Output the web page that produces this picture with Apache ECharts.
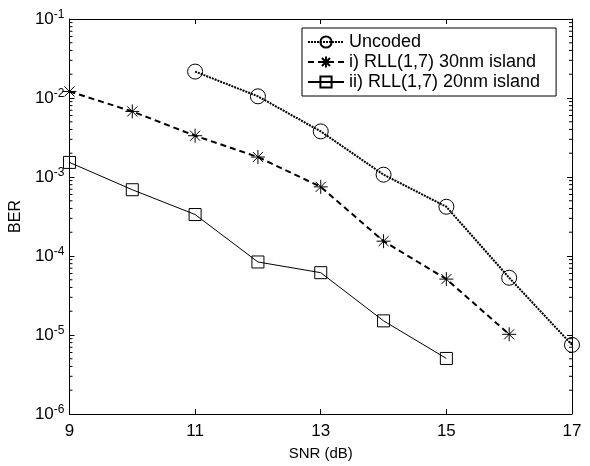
<!DOCTYPE html>
<html>
<head>
<meta charset="utf-8">
<script src="https://cdn.jsdelivr.net/npm/echarts@6/dist/echarts.min.js"></script>
<style>
  html, body { margin: 0; padding: 0; background: #fff; }
  #chart { width: 590px; height: 466px; }
</style>
</head>
<body>
<div id="chart"></div>
<script>
// values (SNR in dB, BER)
const snrUncoded = [11, 12, 13, 14, 15, 16, 17];
const berUncoded = [0.0216, 0.0105, 0.00378, 0.00107, 4.2e-4, 5.3e-5, 7.5e-6];

const snr30nm = [9, 10, 11, 12, 13, 14, 15, 16];
const ber30nm = [0.0121, 0.00676, 0.00333, 0.00179, 7.5e-4, 1.54e-4, 5.1e-5, 1.02e-5];

const snr20nm = [9, 10, 11, 12, 13, 14, 15];
const ber20nm = [0.00153, 6.9e-4, 3.35e-4, 8.4e-5, 6.15e-5, 1.51e-5, 5.05e-6];

const xMin = 9, xMax = 17;
const yMin = 1e-6, yMax = 1e-1;
const seriesNames = ['Uncoded', 'i) RLL(1,7) 30nm island', 'ii) RLL(1,7) 20nm island'];

// log minor ticks: 2..9 inside each decade
const minorMantissas = [2, 3, 4, 5, 6, 7, 8, 9];
const minorDecades = [-6, -5, -4, -3, -2];
const minorTicks = [];
minorDecades.forEach(d => minorMantissas.forEach(m => minorTicks.push(m * Math.pow(10, d))));

const FONT = 'Liberation Sans, Arial, sans-serif';
const asterisk = 'path://M0,-1L0,1M-1,0L1,0M-0.72,-0.72L0.72,0.72M-0.72,0.72L0.72,-0.72';

const pairs = (xs, ys) => xs.map((x, i) => [x, ys[i]]);

const chart = echarts.init(document.getElementById('chart'));

const yLabel = {
    color: '#000',
    fontFamily: FONT,
    margin: 5,
    formatter: function (v) {
        const e = Math.round(Math.log10(v));
        return '{b|10}{s|' + e + '}';
    },
    rich: {
        b: { fontSize: 17, fontFamily: FONT, color: '#000', lineHeight: 20 },
        s: { fontSize: 12, fontFamily: FONT, color: '#000', lineHeight: 20, verticalAlign: 'top', padding: [0, 0, 10, 0] }
    }
};

const tick = { show: true, inside: true, length: 5, lineStyle: { color: '#000', width: 1 } };
const axisLine = { show: true, lineStyle: { color: '#000', width: 1 } };

chart.setOption({
    animation: false,
    backgroundColor: '#fff',
    grid: { left: 68, right: 18, top: 19, bottom: 51 },
    legend: {
        orient: 'vertical',
        left: 302,
        top: 28,
        data: seriesNames,
        backgroundColor: '#fff',
        borderColor: '#000',
        borderWidth: 1,
        borderRadius: 0,
        padding: [4, 16, 4, 5],
        itemWidth: 36,
        itemHeight: 14,
        itemGap: 0,
        textStyle: { fontFamily: FONT, fontSize: 18, color: '#000', lineHeight: 20 }
    },
    xAxis: [{
        type: 'value',
        min: xMin, max: xMax, interval: 2,
        name: 'SNR (dB)',
        nameLocation: 'middle',
        nameGap: 32,
        nameTextStyle: { fontFamily: FONT, fontSize: 15, color: '#000' },
        axisLine: axisLine,
        axisTick: tick,
        axisLabel: { color: '#000', fontFamily: FONT, fontSize: 17, margin: 9 },
        splitLine: { show: false }
    }, {
        type: 'value', position: 'top',
        min: xMin, max: xMax, interval: 2,
        axisLine: axisLine,
        axisTick: tick,
        axisLabel: { show: false },
        splitLine: { show: false }
    }],
    yAxis: [{
        type: 'log', logBase: 10,
        min: yMin, max: yMax,
        name: 'BER',
        nameLocation: 'middle',
        nameGap: 37,
        nameTextStyle: { fontFamily: FONT, fontSize: 16, color: '#000' },
        axisLine: axisLine,
        axisTick: tick,
        axisLabel: yLabel,
        splitLine: { show: false }
    }, {
        type: 'log', logBase: 10, position: 'right',
        min: yMin, max: yMax,
        axisLine: axisLine,
        axisTick: tick,
        axisLabel: { show: false },
        splitLine: { show: false }
    }],
    series: [{
        // minor log ticks on left and right frame
        type: 'custom',
        silent: true,
        clip: false,
        z: 1,
        data: minorTicks.map(v => [xMin, v]),
        renderItem: function (params, api) {
            const v = api.value(1);
            const l = api.coord([xMin, v]);
            const r = api.coord([xMax, v]);
            const st = { stroke: '#000', lineWidth: 1 };
            return {
                type: 'group',
                children: [
                    { type: 'line', shape: { x1: l[0], y1: l[1], x2: l[0] + 3, y2: l[1] }, style: st },
                    { type: 'line', shape: { x1: r[0], y1: r[1], x2: r[0] - 3, y2: r[1] }, style: st }
                ]
            };
        }
    }, {
        name: seriesNames[0],
        type: 'line',
        data: pairs(snrUncoded, berUncoded),
        clip: false,
        symbol: 'circle',
        symbolSize: 15,
        itemStyle: { color: 'rgba(0,0,0,0)', borderColor: '#000', borderWidth: 1 },
        lineStyle: { color: '#000', width: 2, type: [2, 1] }
    }, {
        name: seriesNames[1],
        type: 'line',
        data: pairs(snr30nm, ber30nm),
        clip: false,
        symbol: asterisk,
        symbolSize: 14,
        itemStyle: { color: 'rgba(0,0,0,0)', borderColor: '#000', borderWidth: 1 },
        lineStyle: { color: '#000', width: 2, type: [6, 4] }
    }, {
        name: seriesNames[2],
        type: 'line',
        data: pairs(snr20nm, ber20nm),
        clip: false,
        symbol: 'rect',
        symbolSize: 12,
        itemStyle: { color: 'rgba(0,0,0,0)', borderColor: '#000', borderWidth: 1 },
        lineStyle: { color: '#000', width: 1, type: 'solid' }
    }]
});

window.addEventListener('resize', () => chart.resize());
</script>
</body>
</html>
